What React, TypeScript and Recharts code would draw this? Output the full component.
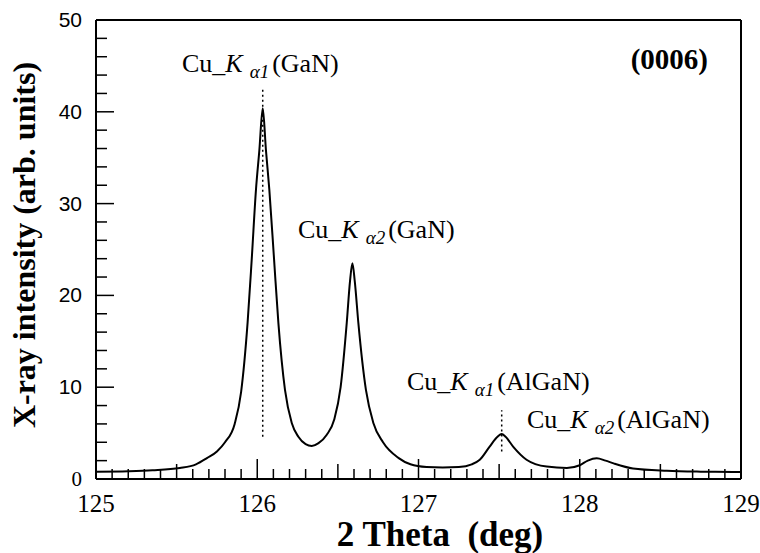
import React from 'react';
import { LineChart, Line, XAxis, YAxis, ReferenceLine } from 'recharts';

// 2-theta scan (deg / arb. units)
const twoTheta = [
  125.0, 125.2, 125.35, 125.52, 125.62, 125.69, 125.75, 125.8, 125.86, 125.9,
  125.94, 125.966, 125.992, 126.013, 126.034, 126.054, 126.075, 126.104, 126.131, 126.172,
  126.214, 126.255, 126.3, 126.338, 126.38, 126.43, 126.478, 126.517, 126.555, 126.575,
  126.59, 126.605, 126.627, 126.674, 126.72, 126.78, 126.875, 126.95, 127.05, 127.15,
  127.25, 127.33, 127.38, 127.44, 127.49, 127.516, 127.54, 127.588, 127.67, 127.795,
  127.92, 128.0, 128.05, 128.105, 128.16, 128.21, 128.33, 128.54, 128.75, 128.95, 129.0,
];
const intensity = [
  0.8, 0.85, 0.95, 1.2, 1.6, 2.3, 3.0, 4.0, 6.0, 9.5,
  17, 24, 31.5, 35.8, 40.4, 35.8, 31.5, 24, 17, 9.7,
  6.1, 4.6, 3.8, 3.6, 3.9, 4.8, 6.5, 10, 17, 21.5,
  23.5, 21.5, 17, 9.7, 6.1, 4.0, 2.3, 1.6, 1.3, 1.25,
  1.3, 1.6, 2.1, 3.5, 4.6, 4.9, 4.6, 3.5, 2.1, 1.35,
  1.2, 1.5, 2.0, 2.25, 2.0, 1.7, 1.15, 0.9, 0.8, 0.76, 0.75,
];

const xMajorTicks = [125, 126, 127, 128, 129];
const yMajorTicks = [0, 10, 20, 30, 40, 50];

// peak markers (dotted lines): position, bottom, top
const markerX = [126.034, 127.516];
const markerLow = [4.6, 3.0];
const markerHigh = [42.6, 7.5];

const peakSubs = ['1', '2', '1', '2'];
const peakPhases = ['GaN', 'GaN', 'AlGaN', 'AlGaN'];

const data = twoTheta.map((x, i) => ({ x, y: intensity[i] }));

// minor ticks every 0.1 deg and every 2 units
const xTicks: number[] = [];
for (let i = 0; i <= 40; i++) xTicks.push(Number((125 + i * 0.1).toFixed(1)));
const yTicks: number[] = [];
for (let v = 0; v <= 50; v += 2) yTicks.push(v);

const SERIF = '"Liberation Serif", "Times New Roman", serif';
const SANS = '"Liberation Sans", Arial, sans-serif';

// ticks point inward, labels sit outside
const XTick = (props: any) => {
  const { x, y, payload } = props;
  const v = payload.value;
  const major = xMajorTicks.includes(v);
  const half = !major && Math.abs(v * 2 - Math.round(v * 2)) < 1e-6;
  const len = major ? 20 : half ? 15 : 10;
  return (
    <g>
      <line x1={x} x2={x} y1={y} y2={y - len} stroke="#000" strokeWidth={1.5} />
      {major && (
        <text x={x} y={y + 33} textAnchor="middle" fontFamily={SERIF} fontSize={25} fill="#000">
          {v}
        </text>
      )}
    </g>
  );
};

const YTick = (props: any) => {
  const { x, y, payload } = props;
  const v = payload.value;
  const major = yMajorTicks.includes(v);
  const len = major ? 18 : 11;
  return (
    <g>
      <line x1={x} x2={x + len} y1={y} y2={y} stroke="#000" strokeWidth={1.5} />
      {major && (
        <text x={x - 14} y={y + 7} textAnchor="end" fontFamily={v === 0 ? SERIF : SANS} fontSize={21} fill="#000">
          {v}
        </text>
      )}
    </g>
  );
};

const PeakLabel = ({ x, y, sub, phase }: { x: number; y: number; sub: string; phase: string }) => (
  <text x={x} y={y} fontFamily={SERIF} fontSize={26} fill="#000">
    Cu_<tspan fontStyle="italic">K</tspan>
    <tspan fontStyle="italic" fontSize={19} dx={7} dy={6}>α{sub}</tspan>
    <tspan dx={3} dy={-6}>({phase})</tspan>
  </text>
);

const labelPos = [
  { x: 182, y: 72 },
  { x: 298, y: 238 },
  { x: 407, y: 390 },
  { x: 527, y: 428 },
];

export default function App() {
  return (
    <div style={{ position: 'absolute', left: 0, top: 0, width: 760, height: 553, background: '#fff' }}>
      <LineChart width={760} height={553} data={data} margin={{ top: 20, right: 19, bottom: 0, left: 0 }}>
        <XAxis
          dataKey="x"
          type="number"
          domain={[125, 129]}
          ticks={xTicks}
          interval={0}
          height={74}
          tickSize={0}
          tickMargin={0}
          tickLine={false}
          tick={<XTick />}
          axisLine={{ stroke: '#000', strokeWidth: 2 }}
        />
        <YAxis
          type="number"
          domain={[0, 50]}
          ticks={yTicks}
          interval={0}
          width={96}
          tickSize={0}
          tickMargin={0}
          tickLine={false}
          tick={<YTick />}
          axisLine={{ stroke: '#000', strokeWidth: 2 }}
        />
        <ReferenceLine y={50} stroke="#000" strokeWidth={2} />
        <ReferenceLine x={129} stroke="#000" strokeWidth={2} />
        {markerX.map((mx, i) => (
          <ReferenceLine
            key={i}
            segment={[{ x: mx, y: markerLow[i] }, { x: mx, y: markerHigh[i] }]}
            stroke="#000"
            strokeWidth={1.5}
            strokeDasharray="2 3"
          />
        ))}
        <Line
          type="monotone"
          dataKey="y"
          stroke="#000"
          strokeWidth={2}
          dot={false}
          isAnimationActive={false}
        />
      </LineChart>
      <svg width={760} height={553} style={{ position: 'absolute', left: 0, top: 0, pointerEvents: 'none' }}>
        {labelPos.map((p, i) => (
          <PeakLabel key={i} x={p.x} y={p.y} sub={peakSubs[i]} phase={peakPhases[i]} />
        ))}
        <text x={708} y={69} textAnchor="end" fontFamily={SERIF} fontWeight="bold" fontSize={29} fill="#000">
          (0006)
        </text>
        <text
          x={440}
          y={546}
          textAnchor="middle"
          fontFamily={SERIF}
          fontWeight="bold"
          fontSize={35}
          fill="#000"
          style={{ whiteSpace: 'pre' }}
        >
          {'2 Theta  (deg)'}
        </text>
        <text
          x={35}
          y={245}
          textAnchor="middle"
          transform="rotate(-90, 35, 245)"
          fontFamily={SERIF}
          fontWeight="bold"
          fontSize={32}
          fill="#000"
        >
          X-ray intensity (arb. units)
        </text>
      </svg>
    </div>
  );
}
